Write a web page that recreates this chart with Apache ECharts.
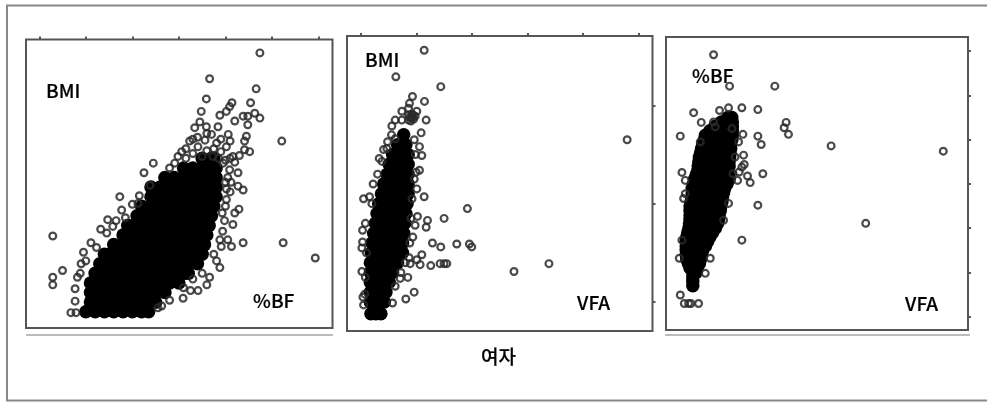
<!DOCTYPE html>
<html><head><meta charset="utf-8">
<style>html,body{margin:0;padding:0;background:#fff}#c{width:987px;height:402px}</style>
<script src="https://cdn.jsdelivr.net/npm/echarts@6/dist/echarts.min.js"></script>
</head><body><div id="c"></div>
<script>
// Panel 1: %BF (x) vs BMI (y)
const bfTicks = [10,20,30,40,50,60,70];
const vfaTicks = [0,100,200,300,400,500];
const bmiTicks = [20,30,40];
// saturated overplotted cloud, read as [y, [x...]] rows
const bfBmiDense = [
 [19,[20,22,24,26,28,30,32,33.5]],
 [20,[21,23,25,27,29,31,33,35]],
 [21,[21,23,25,27,29,31,33,35,37]],
 [22,[21,22,24,26,28,30,32,34,36,38,40]],
 [23,[22,23,25,27,29,31,33,35,37,39,41,42]],
 [24,[23,24,26,28,30,32,34,36,38,40,42,44]],
 [25,[24,25,27,29,31,33,35,37,39,41,43,45]],
 [26,[26,28,30,32,34,36,38,40,42,44,45.5]],
 [27,[28,29,31,33,35,37,39,41,43,45,46]],
 [28,[29,30,32,34,36,38,40,42,44,46,46.5]],
 [29,[31,33,35,37,39,41,43,45,47]],
 [30,[32,34,36,38,40,42,44,46,47.5]],
 [31,[34,35,37,39,41,43,45,47,48]],
 [32,[34,36,38,40,42,44,46,48]],
 [33,[37,39,41,43,45,47,48]],
 [34,[41,43,45,47,48]],
 [35,[45,47,47.5]]
];
const bfBmiPoints = [[57.4,46],[46.6,43.3],[56.6,42.25],[45.9,41.2],[51.4,40.8],[55.4,40.8],[44.8,39.9],[62.1,36.8],[43.4,38.2],[34.5,34.5],[32.5,33.5],[27.3,31],[27.7,29.6],[12.9,26.9],[62.4,26.2],[53.8,26.2],[69.3,24.6],[15,23.3],[12.9,22.6],[12.9,21.8],[40.9,20.4],[31.5,31.1],[24.7,28.6],[23.2,27.6],[21.1,26.2],[20,24.3],[18.2,22.6],[17.7,21.4],[17.7,20.1],[16.8,18.9],[17.9,18.9],
 [48.8,39.5],[50.2,39.9],[50.9,40.4],[53.8,39.4],[54.8,39.4],[56.3,39.7],[57.4,39.2],[52,38.9],[48.4,38.3],[45.9,38.3],[44.5,38.8],[54.8,38.5],[54.5,37.3],[54.1,36.8],[50.6,37.5],[42.3,36.8],[44.1,36.2],[40.6,35.7],[45.6,36.9],[48.1,36.6],[50.2,36.2],[54.1,35.9],[55.2,35.7],[51.6,35.2],[47.3,35.2],[52.7,33.5],[50.9,33.8],[53.8,31.7],[52.7,32.1],[50.2,30.7],[50,30],[52.9,29.7],[52,29.3],[49.3,29.3],[51.6,28.1],[49.4,27.4],[50.5,26.5],[51.3,25.8],[49.1,25.8],[48.1,24.3],[48.8,23.6],[46.6,22.6],[46,21.8],[44.1,21.2],[42.5,21.2],[36.3,19.6],
 [31.2,30.3],[25.8,27.9],[24.5,27.2],[22.3,25.7],[33.8,32.2],[38,34],[39.1,34.5],[43,35.5],[46,35.8],[41.5,35],[49.5,34.5],[50,32.5],[51,31.5],[49.8,28.5],[48.8,26.5],[47.5,25],[45,23],[43,22.4],[41,21.5],[38,20.2],[35.5,19.4],[19,24],[18.8,23],[19.5,25.2],[28.5,28.8],[26.5,28.5],[30,30.2],
 [47,37.5],[49,37],[51,36.8],[46,37.6],[47.5,36],[49,35.7],[51,35],[45,35.2],[48.5,35],[50,34.8],[52,34.6],[53,35.3],[44,37.2],[43,37],[41.5,36],[39.8,35.2],[50.5,33],[51.2,32.5],[50.2,31.8]];

// Panel 2: VFA (x) vs BMI (y)
const vfaBmiDense = [
 [18.8,[18,27,36]],
 [20,[17,30,42]],
 [21,[17,30,45]],
 [22,[17,30,40,51]],
 [23,[17,30,45,57]],
 [24,[17,30,45,55,66]],
 [25,[19,33,47,61,75]],
 [26,[20,35,50,65,75]],
 [27,[23,38,52,66,77]],
 [28,[26,40,54,68,79]],
 [29,[29,43,57,71,81]],
 [30,[32,46,60,74,83]],
 [31,[37,50,62,74,85]],
 [32,[41,55,70,85]],
 [33,[47,60,72,85]],
 [34,[51,68,85]],
 [35,[57,70,85]],
 [36,[66,81]],
 [37,[77]]
];
const vfaBmiPoints = [[113.8,45.6],[62.9,42.9],[143.7,41.9],[92.8,40.9],[114.4,40.4],[117.4,38.5],[479,36.5],[108.4,37.2],[87.4,40.2],[73.7,39.4],[100.6,39.4],[85.7,39.7],[61.7,38.5],[55.7,37.9],[73.7,38.5],[85.7,39],[91.6,38.7],[97.6,38.9],[61.7,36.6],[105.4,35.8],[109.6,34.9],[105.4,33.4],[99.4,33.2],[32.9,34.6],[40.7,35.5],[46.7,35.6],[100.6,31.5],[113.8,30.7],[4.8,30.5],[15.6,30.7],[19.8,30],[191.6,29.5],[101.8,28.7],[119.8,28.3],[149.7,28.5],[117.4,27.6],[97.6,27.8],[3,27.3],[3,26.1],[1.8,25.5],[93.4,26.6],[128.7,26],[143.7,25.6],[172.5,25.9],[195.2,25.9],[199.4,25.6],[109.6,24.8],[100.6,24.3],[86.8,24.5],[106.6,23.8],[125.7,23.7],[142.5,23.9],[149.7,23.9],[154.5,23.9],[338.3,23.9],[275.4,23.1],[1.8,23.1],[84.4,22.5],[95.8,21],[80.8,20.3],[56.9,19.9],[3.6,20.5],[4.8,19.7],[70.7,22.4],[61.7,21.6],[88.6,23.9],[96,36.5],[98,35],[96,32.5],[92,30.5],[90,28.5],[88,26],[80,24],[72,23],[8,28],[10,25],[8,22.5],[7,20.8],[22,32],[30,33],[38,34.3],[48,36.3],[55,37],
 [88,38.8],[92,39.1],[95,38.6],[90,38.4],[94,39],[86,38.5]];

// Panel 3: VFA (x) vs %BF (y)
const vfaBfTicks = [10,20,30,40,50,60,70];
const vfaBfDense = [
 [17,[24]],[18,[24]],
 [19,[24]],[20,[24,30]],
 [21,[19,32]],[22,[16,28,36]],
 [23,[13,25,38]],[24,[12,19,32,40]],
 [25,[12,25,42]],[26,[12,19,35,47]],
 [27,[12,28,51]],[28,[13,20,38,55]],
 [29,[15,35,60]],[30,[17,26,46,65]],
 [31,[18,38,55,69]],[32,[19,28,46,62,71]],
 [33,[19,37,55,72]],[34,[19,28,46,64,74]],
 [35,[19,38,56,75]],[36,[21,30,47,66,77]],
 [37,[23,43,60,78]],[38,[23,33,52,70,80]],
 [39,[23,43,62,82]],[40,[25,35,55,75,86]],
 [41,[27,47,68,90]],[42,[30,40,58,80,89]],
 [43,[33,55,75,88]],[44,[34,45,65,82,90]],
 [45,[35,55,75,90]],[46,[36,47,65,83,91]],
 [47,[38,58,78,92]],[48,[40,50,70,86,93]],
 [49,[42,65,93]],[50,[45,55,80,95]],
 [51,[47,70,96]],[52,[55,62,84,96]],
 [53,[64,80,96]],[54,[76,88,96]],
 [55,[88,95]]
];
const vfaBfPoints = [[61.8,69.2],[90.9,62.1],[173.3,62.1],[89.1,57.2],[113.3,57.2],[142.4,56.8],[72.7,56.6],[25.5,56.1],[39.4,53.9],[193.9,53.9],[190.3,52.7],[198.2,51.2],[1.2,50.8],[142.4,50.8],[148.5,48.9],[275.8,48.6],[480,47.4],[115.2,51.2],[116.4,46.5],[117.6,44.4],[4.2,42.6],[151.5,42.3],[123.6,41.8],[128.5,40.3],[108.5,42.7],[105.5,40.8],[142.4,35.2],[89.1,35.6],[80,31.8],[338.8,31.1],[113.3,27.3],[55.8,23.2],[46.7,19.8],[-0.6,23.2],[1.2,14.9],[8.5,13],[16.4,13],[20.6,13],[34.5,13],[37.6,49.5],[61.8,54],[64.8,52.9],[107.3,49.5],[101,46.1],[97,42.3],[113.3,43.8],[10.3,40.8],[10.3,37.8],[7.3,36.7],[4.2,27.3],[95.2,52.5]];

const expand = rows => rows.flatMap(([y, xs]) => xs.map(x => [x, y]));
const ring = {color:'transparent', borderColor:'#2a2a2a', borderWidth:2.2, opacity:0.85};
const dense = {color:'#000', opacity:1};
const axisTickStyle = {lineStyle:{color:'#555', width:2}, length:3};

function xAxis(i,min,max,ticks){return {gridIndex:i,type:'value',min,max,position:'top',
  axisLine:{show:false,onZero:false},splitLine:{show:false},axisLabel:{show:false},
  axisTick: ticks ? Object.assign({show:true,customValues:ticks},axisTickStyle) : {show:false}};}
function yAxis(i,min,max,ticks){return {gridIndex:i,type:'value',min,max,position:'right',
  axisLine:{show:false,onZero:false},splitLine:{show:false},axisLabel:{show:false},
  axisTick: ticks ? Object.assign({show:true,customValues:ticks},axisTickStyle) : {show:false}};}
function pair(i,rows,pts){return [
  {type:'scatter',xAxisIndex:i,yAxisIndex:i,data:expand(rows),symbolSize:13.5,itemStyle:dense,silent:true,animation:false},
  {type:'scatter',xAxisIndex:i,yAxisIndex:i,data:pts,symbolSize:6.8,itemStyle:ring,silent:true,animation:false}];}
const txt = (x,cy,t) => ({type:'text',left:x,top:cy-9.5,style:{text:t,fill:'#000',stroke:'#000',lineWidth:0.2,font:'500 19px "Noto Sans CJK KR"'}});
const gridStyle = {show:true,borderColor:'#555',borderWidth:2,backgroundColor:'#fff'};

const chart = echarts.init(document.getElementById('c'),null,{renderer:'canvas'});
chart.setOption({
 backgroundColor:'#fff',animation:false,
 grid:[
  Object.assign({left:26,top:39.5,width:306.5,height:288.5},gridStyle),
  Object.assign({left:347,top:36,width:305.5,height:295},gridStyle),
  Object.assign({left:666,top:37,width:302,height:293},gridStyle)],
 xAxis:[xAxis(0,7.15,73,bfTicks),xAxis(1,-25,524.6,vfaTicks),xAxis(2,-24.8,525,null)],
 yAxis:[yAxis(0,17.3,47.4,null),yAxis(1,17.05,47.05,bmiTicks),yAxis(2,7,73.2,vfaBfTicks)],
 series:[...pair(0,bfBmiDense,bfBmiPoints),...pair(1,vfaBmiDense,vfaBmiPoints),...pair(2,vfaBfDense,vfaBfPoints)],
 graphic:[
  {type:'rect',z:-1,shape:{x:7,y:5.5,width:990,height:395},style:{fill:'none',stroke:'#888',lineWidth:2}},
  {type:'line',shape:{x1:26,y1:335,x2:333,y2:335},style:{stroke:'#bbb',lineWidth:2}},
  {type:'line',shape:{x1:665,y1:335,x2:970,y2:335},style:{stroke:'#bbb',lineWidth:2}},
  txt(46,91,'BMI'),txt(253,301,'%BF'),txt(365,60,'BMI'),txt(577,303,'VFA'),
  txt(481,357,'여자'),txt(692,76,'%BF'),txt(905,304,'VFA')
 ]
});
</script></body></html>
